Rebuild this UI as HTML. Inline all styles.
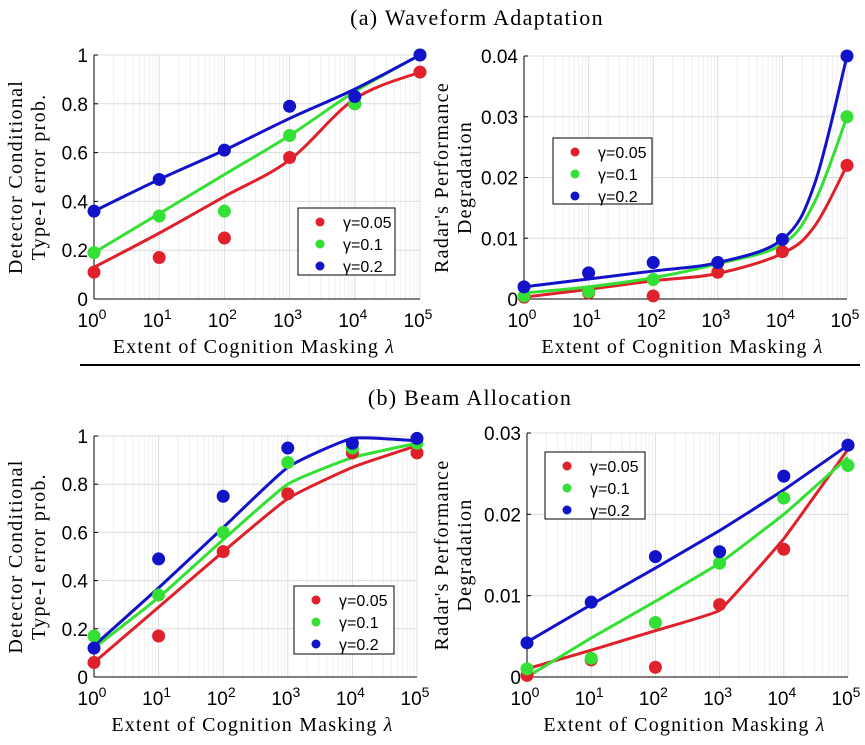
<!DOCTYPE html>
<html><head><meta charset="utf-8"><style>
body{margin:0;background:#fff;width:865px;height:740px;overflow:hidden}
svg text{font-family:"Liberation Sans",sans-serif}
.ser{font-family:"Liberation Serif",serif}
</style></head><body>
<svg id="c" width="865" height="740" xmlns="http://www.w3.org/2000/svg">
<text class="ser" x="477" y="25" font-size="22" letter-spacing="1.3" text-anchor="middle">(a) Waveform Adaptation</text>
<text class="ser" x="470" y="405" font-size="22" letter-spacing="1.3" text-anchor="middle">(b) Beam Allocation</text>
<line x1="80" y1="365" x2="860" y2="365" stroke="#000" stroke-width="2"/>
</svg>
<script>
const xExp=[0,1,2,3,4,5];
const seriesNames=["γ=0.05","γ=0.1","γ=0.2"];
const colors=["#e0202a","#33e033","#1212c8"];
// (a-left)
const aL_red=[0.11,0.17,0.25,0.58,0.80,0.93];
const aL_green=[0.19,0.34,0.36,0.67,0.80,1.0];
const aL_blue=[0.36,0.49,0.61,0.79,0.83,1.0];
const aL_redFit=[0.13,0.27,0.42,0.57,0.82,0.93];
const aL_greenFit=[0.19,0.35,0.51,0.67,0.85,1.0];
const aL_blueFit=[0.36,0.49,0.61,0.74,0.86,1.0];
const aL_ticks=[0,0.2,0.4,0.6,0.8,1];
// (a-right)
const aR_red=[0.0003,0.001,0.0005,0.0044,0.0078,0.022];
const aR_green=[0.0005,0.0012,0.0032,0.006,0.0098,0.030];
const aR_blue=[0.002,0.0043,0.006,0.006,0.0098,0.040];
const aR_fitX=[0,1,2,3,4,4.5,5];
const aR_redFit=[0.0003,0.0016,0.003,0.0042,0.0075,0.012,0.022];
const aR_greenFit=[0.001,0.002,0.0035,0.0058,0.009,0.016,0.030];
const aR_blueFit=[0.002,0.0033,0.0046,0.006,0.0098,0.019,0.040];
const aR_ticks=[0,0.01,0.02,0.03,0.04];
// (b-left)
const bL_red=[0.06,0.17,0.52,0.76,0.93,0.93];
const bL_green=[0.17,0.34,0.60,0.89,0.95,0.97];
const bL_blue=[0.12,0.49,0.75,0.95,0.97,0.99];
const bL_redFit=[0.06,0.29,0.52,0.74,0.87,0.96];
const bL_greenFit=[0.12,0.33,0.57,0.80,0.91,0.97];
const bL_blueFit=[0.13,0.37,0.62,0.87,0.99,0.98];
const bL_ticks=[0,0.2,0.4,0.6,0.8,1];
// (b-right)
const bR_red=[0.0002,0.0021,0.0012,0.0089,0.0157,0.0285];
const bR_green=[0.001,0.0023,0.0067,0.014,0.022,0.026];
const bR_blue=[0.0042,0.0092,0.0148,0.0154,0.0247,0.0285];
const bR_redFit=[0.001,0.0033,0.0057,0.0082,0.017,0.028];
const bR_greenFit=[0.0,0.0048,0.0093,0.014,0.020,0.027];
const bR_blueFit=[0.0043,0.0089,0.0134,0.018,0.023,0.0285];
const bR_ticks=[0,0.01,0.02,0.03];

const NS="http://www.w3.org/2000/svg";
const svg=document.getElementById('c');
function el(t,a,p){const e=document.createElementNS(NS,t);for(const k in a)e.setAttribute(k,a[k]);(p||svg).appendChild(e);return e;}

function panel(cfg){
  const g=el('g',{});
  
  
  const xs=v=>cfg.x0+(cfg.x1-cfg.x0)*v/5;
  const ys=v=>cfg.y0-(cfg.y0-cfg.y1)*v/cfg.ymax;
  for(let d=0;d<5;d++)for(let m=2;m<10;m++){const xx=xs(d+Math.log10(m));el('line',{x1:xx,x2:xx,y1:cfg.y1,y2:cfg.y0,stroke:'#f0f0f0','stroke-width':1},g);}
  xExp.forEach(e=>{el('line',{x1:xs(e),x2:xs(e),y1:cfg.y1,y2:cfg.y0,stroke:'#dcdcdc','stroke-width':1},g);});
  cfg.ticks.forEach(t=>{el('line',{x1:cfg.x0,x2:cfg.x1,y1:ys(t),y2:ys(t),stroke:'#dcdcdc','stroke-width':1},g);
    const tl=el('text',{x:cfg.x0-6,y:ys(t)+7,'font-size':19,'text-anchor':'end'},g);tl.textContent=String(t);
    
    
    el('line',{x1:cfg.x0,x2:cfg.x0+4,y1:ys(t),y2:ys(t),stroke:'#000'},g);});
  el('line',{x1:cfg.x0,x2:cfg.x0,y1:cfg.y1,y2:cfg.y0,stroke:'#000','stroke-width':1},g);
  el('line',{x1:cfg.x0,x2:cfg.x1,y1:cfg.y0,y2:cfg.y0,stroke:'#000','stroke-width':1},g);
  xExp.forEach(e=>{const t=el('text',{x:xs(e)-2,y:cfg.y0+28,'font-size':19,'text-anchor':'middle'},g);
    
    
    t.textContent='10';const s=el('tspan',{dy:-8,'font-size':14},t);s.textContent=e;});
  const xl=el('text',{class:'ser',x:(cfg.x0+cfg.x1)/2-3,y:cfg.y0+54,'font-size':20,'letter-spacing':1.2,'text-anchor':'middle'},g);
  
  
  xl.innerHTML='Extent of Cognition Masking <tspan font-style="italic">λ</tspan>';
  const cy=(cfg.y0+cfg.y1)/2;
  cfg.ylab.forEach((s,i)=>{const t=el('text',{class:'ser',x:0,y:0,'font-size':20,'letter-spacing':1.3,'text-anchor':'middle',transform:`translate(${cfg.ylx+i*23},${cy}) rotate(-90)`},g);
    
    
    t.textContent=s;});
  cfg.fits.forEach((f,i)=>{const fx=cfg.fitX||xExp;const pts=fx.map((x,j)=>[xs(x),ys(f[j])]);
    let d='M'+pts[0][0]+','+pts[0][1];
    for(let j=0;j<pts.length-1;j++){const p0=pts[Math.max(0,j-1)],p1=pts[j],p2=pts[j+1],p3=pts[Math.min(pts.length-1,j+2)];
      const k=cfg.smooth;
      d+=` C${p1[0]+(p2[0]-p0[0])*k},${p1[1]+(p2[1]-p0[1])*k} ${p2[0]-(p3[0]-p1[0])*k},${p2[1]-(p3[1]-p1[1])*k} ${p2[0]},${p2[1]}`;}
    const p=el('path',{d:d,fill:'none',stroke:colors[i],'stroke-width':3},g);
    
    });
  cfg.pts.forEach((s,i)=>{s.forEach((v,j)=>{const c=el('circle',{cx:xs(xExp[j]),cy:ys(v),r:6.5,fill:colors[i]},g);
    
    });});
  const L=cfg.leg;const lg=el('g',{},g);
  
  
  el('rect',{x:L[0],y:L[1],width:L[2],height:L[3],fill:'#fff',stroke:'#000','stroke-width':1},lg);
  seriesNames.forEach((n,i)=>{const yy=L[1]+14+i*22;
    el('circle',{cx:L[0]+22,cy:yy,r:4.5,fill:colors[i]},lg);
    const t=el('text',{x:L[0]+45,y:yy+6,'font-size':16},lg);t.textContent=n;
    
    });
}
panel({name:'panel-a-left',x0:94,x1:420,y0:299,y1:55,ymax:1,ticks:aL_ticks,ylab:['Detector Conditional','Type-I error prob.'],ylx:22,
  fits:[aL_redFit,aL_greenFit,aL_blueFit],pts:[aL_red,aL_green,aL_blue],leg:[298,208,97,67],smooth:1/6});
panel({name:'panel-a-right',x0:524,x1:847,y0:299,y1:56,ymax:0.04,ticks:aR_ticks,ylab:["Radar's Performance",'Degradation'],ylx:448,
  fits:[aR_redFit,aR_greenFit,aR_blueFit],fitX:aR_fitX,pts:[aR_red,aR_green,aR_blue],leg:[553,138,99,66],smooth:1/6});
panel({name:'panel-b-left',x0:94,x1:417,y0:677,y1:436,ymax:1,ticks:bL_ticks,ylab:['Detector Conditional','Type-I error prob.'],ylx:22,
  fits:[bL_redFit,bL_greenFit,bL_blueFit],pts:[bL_red,bL_green,bL_blue],leg:[294,586,100,68],smooth:0.08});
panel({name:'panel-b-right',x0:527,x1:848,y0:677,y1:433,ymax:0.03,ticks:bR_ticks,ylab:["Radar's Performance",'Degradation'],ylx:448,
  fits:[bR_redFit,bR_greenFit,bR_blueFit],pts:[bR_red,bR_green,bR_blue],leg:[545,452,100,67],smooth:0.04});
</script>
</body></html>
